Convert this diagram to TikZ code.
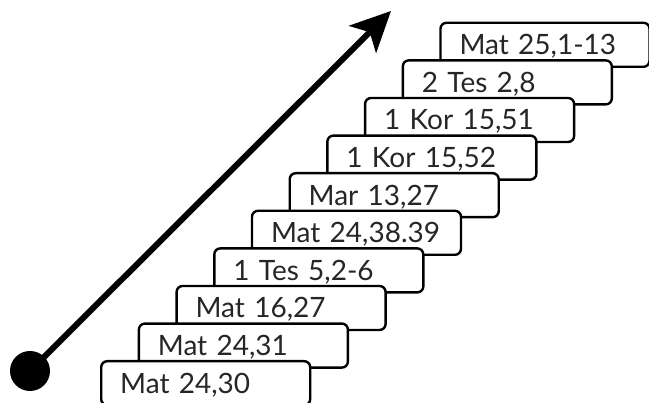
\documentclass[tikz,border=0pt]{standalone}
\usepackage{fontspec}
\setmainfont{Lato}
\usetikzlibrary{arrows.meta}

\begin{document}
\begin{tikzpicture}[x=1pt, y=1pt,
		verse/.style={draw, fill=white, line width=2.4pt, rounded corners=6pt,
			anchor=north west, minimum width=209pt, minimum height=44pt,
			inner xsep=19pt, inner ysep=0pt, text width=171pt, align=left,
			text height=20pt, text depth=0pt, font=\fontsize{28}{28}\selectfont,
			text=black!85}]
			%%%%% START %%%%%
			
			\useasboundingbox (0, 0) rectangle (649, 403);
			
			\node[verse] (v10) at (439.3, 381.4) {Mat 25,1-13};
			\node[verse] (v9) at (401.6, 343.8) {2 Tes 2,8};
			\node[verse] (v8) at (363.9, 306.2) {1 Kor 15,51};
			\node[verse] (v7) at (326.2, 268.6) {1 Kor 15,52};
			\node[verse] (v6) at (288.5, 231) {Mar 13,27};
			\node[verse] (v5) at (250.8, 193.4) {Mat 24,38.39};
			\node[verse] (v4) at (213.1, 155.8) {1 Tes 5,2-6};
			\node[verse] (v3) at (175.4, 118.2) {Mat 16,27};
			\node[verse] (v2) at (137.7, 80.6) {Mat 24,31};
			\node[verse] (v1) at (100, 43) {Mat 24,30};
			
			\node[circle, fill=black, minimum size=40pt, inner sep=0pt] (start) at (30, 32) {};
			\coordinate (end) at (391, 392);
			\draw[line width=6pt, -{Stealth[length=40pt, width=38pt, inset=10pt]}] (start.center) -- (end);
			
			%%%%% END %%%%%
		\end{tikzpicture}
\end{document}
